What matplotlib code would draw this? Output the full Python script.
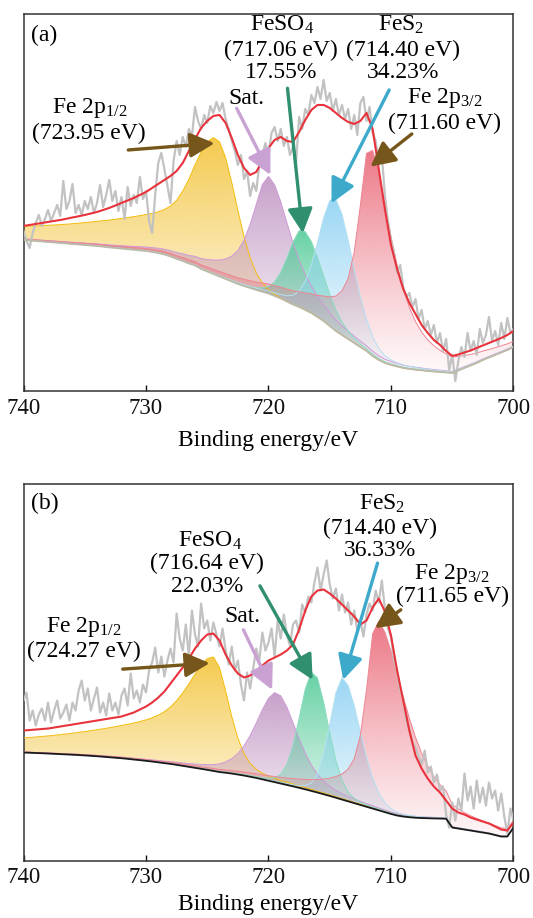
import numpy as np
import matplotlib
matplotlib.use("Agg")
import matplotlib.pyplot as plt
from matplotlib.patches import Polygon
from matplotlib.colors import to_rgb

plt.rcParams["font.family"] = ["Liberation Serif", "DejaVu Serif"]
plt.rcParams["mathtext.fontset"] = "custom"
plt.rcParams["mathtext.rm"] = "Liberation Serif"
plt.rcParams["mathtext.it"] = "Liberation Serif:italic"

# binding energy grids (eV)
energy = np.linspace(740, 700, 81)       # fit grid, 0.5 eV
raw_energy = np.linspace(740, 700, 161)  # measured grid, 0.25 eV

# ---------------- panel (a) ----------------
raw_a = [160, 150, 143, 158, 168, 176, 165, 172,
         181, 170, 178, 186, 175, 210, 182, 190,
         207, 178, 186, 176, 190, 182, 194, 178,
         188, 206, 184, 196, 211, 190, 200, 180,
         194, 172, 204, 185, 196, 188, 214, 192,
         200, 170, 158, 196, 228, 238, 222, 205,
         188, 230, 250, 236, 254, 244, 262, 255,
         284, 270, 262, 276, 268, 285, 278, 289,
         280, 288, 272, 262, 250, 240, 226, 236,
         212, 220, 195, 208, 200, 226, 236, 248,
         236, 258, 264, 250, 262, 245, 254, 236,
         244, 228, 274, 262, 282, 276, 296, 288,
         304, 292, 311, 290, 298, 280, 292, 276,
         286, 272, 282, 262, 276, 256, 288, 294,
         270, 284, 258, 250, 228, 236, 196, 170,
         150, 138, 118, 126, 104, 94, 98, 84,
         92, 72, 81, 62, 70, 56, 66, 48,
         58, 40, 52, 21, 36, 10, 30, 44,
         34, 58, 40, 50, 36, 62, 48, 56,
         74, 50, 60, 46, 68, 52, 73, 58,
         62]
bg_a = [151, 150.5, 150, 149.5, 149, 148.5, 148, 147.5, 147, 146.5,
        146, 145.5, 145, 144.3, 143.6, 143, 142.4, 141.8, 141.2, 140.6,
        140, 139, 138, 136.5, 134.5, 132, 130, 127.5, 125.5, 122,
        119.5, 117, 114.5, 112, 109.5, 107, 105, 103, 101, 99.3,
        97.5, 95, 92.5, 89.5, 86.5, 84, 81, 78, 74, 70,
        65, 60, 56, 52, 48, 44, 40, 35, 31, 28,
        26, 24.5, 23, 22, 21.3, 20.7, 20, 19.5, 19, 18.5,
        18, 20.5, 23, 25.5, 28, 31, 33.5, 36, 38.5, 41,
        44]
env_a = [165, 166, 167, 168, 169, 170, 171, 172.2, 173.5, 174.7,
         176, 177.5, 179, 181, 183, 185.5, 188, 190.5, 193, 196,
         199, 203, 207, 211, 215, 220, 228, 240, 252, 263,
         270, 275, 276, 268, 253, 236, 223, 216, 219, 230,
         243, 251, 254, 250, 249, 259, 271, 281, 286, 286,
         283, 278, 273, 269, 267, 270, 278, 262, 222, 182,
         146, 122, 102, 88, 77, 66, 58, 51, 46, 40,
         35, 36.5, 38.5, 40.5, 43, 45.5, 48, 50.5, 53, 56,
         60]
# fitted components: Fe 2p1/2, Sat., FeSO4, FeS2, Fe 2p3/2
center_a = [724.3, 720.0, 717.2, 714.6, 711.75]
height_a = [137, 117, 79, 132, 208]
hwhm_hi_a = [2.0, 1.5, 1.4, 1.55, 1.0]
hwhm_lo_a = [1.9, 2.1, 1.9, 1.75, 2.2]
lorentz_a = [0.0, 0.7, 0.2, 0.25, 0.8]
tail_a = [0.35, 0.1, 0.0, 0.0, 0.1]
tail_w_a = [10, 5, 1, 1, 6]

# ---------------- panel (b) ----------------
raw_b = [160, 168, 140, 150, 135, 146, 152, 140,
         158, 138, 150, 160, 142, 148, 156, 140,
         158, 150, 170, 180, 160, 172, 150, 162,
         173, 148, 158, 145, 167, 150, 158, 146,
         165, 172, 155, 187, 162, 170, 158, 176,
         168, 190, 198, 213, 188, 204, 184, 200,
         212, 198, 247, 222, 210, 236, 204, 250,
         226, 214, 257, 232, 240, 220, 238, 226,
         214, 232, 210, 196, 214, 190, 200, 176,
         160, 188, 172, 192, 212, 200, 228, 210,
         218, 232, 204, 240, 222, 246, 226, 215,
         236, 240, 228, 256, 248, 264, 258, 278,
         293, 270, 286, 300, 276, 262, 272, 250,
         266, 248, 258, 236, 250, 230, 240, 224,
         246, 257, 250, 270, 258, 280, 252, 232,
         224, 200, 188, 170, 162, 140, 130, 118,
         113, 104, 96, 110, 88, 94, 78, 86,
         70, 74, 46, 33, 58, 40, 62, 50,
         87, 60, 74, 52, 80, 58, 73, 55,
         78, 62, 70, 50, 67, 44, 27, 52,
         40]
bg_b = [108, 107.8, 107.5, 107.3, 107, 106.7, 106.4, 106.1, 105.8, 105.5,
        105.1, 104.7, 104.3, 103.8, 103.3, 102.8, 102.3, 101.7, 101, 100.4,
        99.7, 99, 98.2, 97.4, 96.6, 95.7, 94.7, 93.7, 92.7, 91.7,
        90.7, 89.6, 88.5, 87.8, 87, 86, 85, 83.8, 82.6, 81.2,
        79.8, 78.4, 77, 75.6, 74.2, 72.7, 71.2, 69.6, 68, 66.3,
        64.6, 62.8, 61, 59.2, 57.4, 55.6, 53.8, 52, 50.2, 48.4,
        46.6, 45, 44, 43.3, 42.8, 42.5, 42.3, 42.1, 42, 41.8,
        33, 32, 31, 30, 29, 28, 27, 25.5, 24, 24,
        33]
env_b = [130, 130.5, 131, 131.5, 132, 133, 134, 135, 136, 137,
         138, 139, 140, 141, 142, 143, 144, 146, 148, 151,
         154, 158, 163, 169, 177, 185, 193, 202, 212, 220,
         226, 227, 220, 206, 195, 187, 183, 185, 190, 195,
         200, 203, 206, 210, 216, 231, 250, 264, 270, 271,
         267, 262, 256, 250, 244, 236, 240, 253, 262, 249,
         225, 190, 160, 130, 105, 92, 82, 74, 68, 60,
         52, 48, 46, 43, 41, 39, 37, 34, 31, 30,
         38]
center_b = [724.5, 719.35, 716.35, 713.95, 711.2]
height_b = [114, 90, 120, 122, 190]
hwhm_hi_b = [2.2, 2.0, 1.3, 1.2, 0.9]
hwhm_lo_b = [1.5, 2.0, 1.4, 1.7, 2.8]
lorentz_b = [0.4, 0.5, 0.15, 0.15, 0.65]
tail_b = [0.42, 0.0, 0.0, 0.0, 0.12]
tail_w_b = [10, 1, 1, 1, 4]

fill_colors = ["#f3c43a", "#c196c4", "#55cc9a", "#8fd2f3", "#ea6878"]
edge_colors = ["#f4bd10", "#cf9ad9", "#8adcc0", "#b4e0f2", "#ee8593"]


def component(c, h, w_hi, w_lo, eta, m, wt):
    # asymmetric pseudo-Voigt, extra lorentzian tail on the high-BE side
    d = energy - c
    x = d / np.where(d > 0, w_hi, w_lo)
    core = (1 - eta) * np.exp(-np.log(2) * x**2) + eta / (1 + x**2)
    tail = 1 / (1 + (d / wt)**2)
    return h * np.where(d > 0, (1 - m) * core + m * tail, core)


def gradient_fill(ax, lo, hi, color, z):
    verts = np.column_stack([np.r_[energy, energy[::-1]], np.r_[hi, lo[::-1]]])
    poly = Polygon(verts, closed=True, facecolor="none", edgecolor="none")
    ax.add_patch(poly)
    top = hi.max()
    img = np.zeros((256, 1, 4))
    img[..., :3] = to_rgb(color)
    img[:, 0, 3] = 0.9 * np.linspace(0, 1, 256)**1.2
    im = ax.imshow(img, extent=(740, 700, 0, top), origin="lower",
                   aspect="auto", zorder=z, interpolation="bilinear")
    im.set_clip_path(poly)


def arrow(ax, start, tip, color):
    ax.annotate("", xy=tip, xytext=start, zorder=8,
                arrowprops=dict(arrowstyle="-|>,head_length=0.75,head_width=0.38",
                                color=color, lw=2.4, mutation_scale=20,
                                shrinkA=0, shrinkB=0))


def draw_panel(ax, raw, bg, env, pars, bg_color, bg_lw, labelpad):
    bg = np.array(bg, dtype=float)
    for i, p in enumerate(zip(*pars)):
        comp = bg + component(*p)
        gradient_fill(ax, bg, comp, fill_colors[i], 2 + i * 0.1)
        ax.plot(energy, comp, color=edge_colors[i], lw=0.7, zorder=2.8)
    ax.plot(raw_energy, raw, color="#c2c2c2", lw=1.6, zorder=3)
    ax.plot(energy, bg, color=bg_color, lw=bg_lw, zorder=4)
    ax.plot(energy, env, color="#e8333c", lw=1.5, zorder=5)

    ax.set_xlim(740, 700)
    ax.set_ylim(0, 377)
    ax.set_yticks([])
    ax.set_xticks([740, 730, 720, 710, 700])
    ax.tick_params(axis="x", direction="in", length=4, width=1,
                   labelsize=16.5, pad=5, colors="#111111")
    for s in ax.spines.values():
        s.set_linewidth(1.1)
        s.set_color("#333333")
    ax.set_xlabel("Binding energy/eV", fontsize=17, labelpad=labelpad)


fig = plt.figure(figsize=(5.33, 9.18), dpi=100)
ax1 = fig.add_axes([0.0441, 0.5741, 0.9193, 0.4107])
ax2 = fig.add_axes([0.0441, 0.0626, 0.9193, 0.4107])

draw_panel(ax1, raw_a, bg_a, env_a,
           [center_a, height_a, hwhm_hi_a, hwhm_lo_a, lorentz_a, tail_a, tail_w_a],
           "#bcb9a6", 1.3, 8)
draw_panel(ax2, raw_b, bg_b, env_b,
           [center_b, height_b, hwhm_hi_b, hwhm_lo_b, lorentz_b, tail_b, tail_w_b],
           "#1a1a1a", 1.3, 4)

brown = "#76561a"
purple = "#c9a2d3"
green = "#2f8f6e"
blue = "#3eaacb"
fs = 17
kw = dict(ha="center", va="center", fontsize=fs, zorder=9)

# panel (a) labels
ax1.text(0.015, 0.942, "(a)", transform=ax1.transAxes, ha="left", va="center", fontsize=fs)
ax1.text(734.6, 283, r"Fe 2p$_{\mathrm{1/2}}$", **kw)
ax1.text(734.7, 258, "(723.95 eV)", **kw)
ax1.text(721.8, 292, "Sat.", **kw)
ax1.text(718.9, 366, r"FeSO$_{\mathrm{4}}$", **kw)
ax1.text(719.0, 341, "(717.06 eV)", **kw)
ax1.text(719.0, 318, "17.55%", **kw)
ax1.text(709.2, 366, r"FeS$_{\mathrm{2}}$", **kw)
ax1.text(709.0, 341, "(714.40 eV)", **kw)
ax1.text(709.05, 318, "34.23%", **kw)
ax1.text(705.6, 293, r"Fe 2p$_{\mathrm{3/2}}$", **kw)
ax1.text(705.6, 268, "(711.60 eV)", **kw)
arrow(ax1, (731.45, 241), (724.4, 247.7), brown)
arrow(ax1, (722.6, 282.7), (719.84, 216), purple)
arrow(ax1, (718.45, 302.7), (717.2, 157.7), green)
arrow(ax1, (710.15, 301), (714.86, 187.7), blue)
arrow(ax1, (708.3, 257), (711.68, 224.3), brown)

# panel (b) labels
ax2.text(0.015, 0.947, "(b)", transform=ax2.transAxes, ha="left", va="center", fontsize=fs)
ax2.text(735.05, 234, r"Fe 2p$_{\mathrm{1/2}}$", **kw)
ax2.text(735.05, 209, "(724.27 eV)", **kw)
ax2.text(722.1, 244, "Sat.", **kw)
ax2.text(724.8, 320, r"FeSO$_{\mathrm{4}}$", **kw)
ax2.text(725.0, 297, "(716.64 eV)", **kw)
ax2.text(725.0, 274, "22.03%", **kw)
ax2.text(710.7, 357, r"FeS$_{\mathrm{2}}$", **kw)
ax2.text(710.9, 332, "(714.40 eV)", **kw)
ax2.text(710.9, 310, "36.33%", **kw)
ax2.text(705.0, 287, r"Fe 2p$_{\mathrm{3/2}}$", **kw)
ax2.text(705.0, 264, "(711.65 eV)", **kw)
arrow(ax2, (731.9, 191.4), (724.8, 197.4), brown)
arrow(ax2, (722.05, 230.7), (719.7, 170.7), purple)
arrow(ax2, (720.7, 274.7), (716.4, 180.7), green)
arrow(ax2, (711.1, 297.4), (713.9, 180.7), blue)
arrow(ax2, (709.2, 250.7), (711.3, 232.4), brown)

fig.savefig("out.png", dpi=100)
